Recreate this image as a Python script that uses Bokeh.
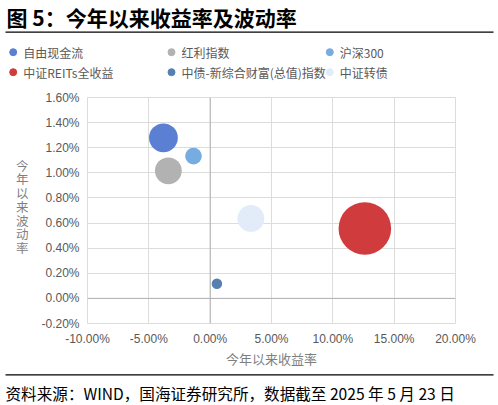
import math
from bokeh.plotting import figure
from bokeh.models import Range1d, NumeralTickFormatter, FixedTicker, Span, ColumnDataSource
from bokeh.layouts import column, row
from bokeh.embed import file_html
from bokeh.resources import INLINE
from bokeh.core.properties import value

# ---------------- data ----------------
names = ["自由现金流", "红利指数", "沪深300", "中证REITs全收益", "中债-新综合财富(总值)指数", "中证转债"]
ytd_return = [-0.0381, -0.0341, -0.0136, 0.1261, 0.0055, 0.0332]
ytd_volatility = [0.01279, 0.01016, 0.01133, 0.00557, 0.00116, 0.00637]
bubble_size = [0.30, 0.26, 0.10, 1.00, 0.04, 0.26]

x_ticks = [-0.10, -0.05, 0.0, 0.05, 0.10, 0.15, 0.20]
y_ticks = [-0.002, 0.0, 0.002, 0.004, 0.006, 0.008, 0.010, 0.012, 0.014, 0.016]

title_text = "图 5：今年以来收益率及波动率"
x_label = "今年以来收益率"
y_label = "今年以来波动率"
source_text = "资料来源：WIND，国海证券研究所，数据截至 2025 年 5 月 23 日"

# ---------------- style ----------------
colors = ["#5B7FD2", "#B2B2B2", "#76ACE0", "#D03B3D", "#5580B1", "#E1ECF8"]
CJK = "Noto Sans CJK SC"
LAT = "Liberation Sans"
W = 498
MAX_R = 26.3
ROW_H = 282
B_TOP, B_BOT = 9, 47


def blank(width, height, top=0, bottom=0):
    f = figure(width=width, height=height, x_range=Range1d(0, width),
               y_range=Range1d(height - bottom, top),
               toolbar_location=None, output_backend="svg", min_border=0,
               min_border_top=top, min_border_bottom=bottom,
               x_axis_location=None, y_axis_location=None)
    f.grid.visible = False
    f.outline_line_color = None
    f.background_fill_color = "white"
    f.border_fill_color = "white"
    return f


# ---------------- header: title + legend ----------------
hdr = blank(W, 88)
hdr.text(x=[6], y=[16], text=[title_text], text_font=value(CJK), text_font_size="21px",
         text_font_style="bold", text_baseline="middle", text_align="left", text_color="black")
hdr.segment(x0=[5], y0=[31.7], x1=[493], y1=[31.7], line_color="black", line_width=1.3)

col_idx = [i % 3 for i in range(len(names))]
row_idx = [i // 3 for i in range(len(names))]
mx = [12.7 + c * 158.3 for c in col_idx]
my = [51.7 + r * 20 for r in row_idx]
hdr.scatter(x=mx, y=my, size=7, color=colors)
hdr.text(x=[m + 10 for m in mx], y=my, text=names, text_font=value(CJK), text_font_size="12px",
         text_baseline="middle", text_align="left", text_color="#595959")

# ---------------- y label (stacked characters) ----------------
yl = blank(36, ROW_H, B_TOP, B_BOT)
yl.text(x=[21.7] * len(y_label), y=[76.5 + i * 13.75 for i in range(len(y_label))],
        text=list(y_label), text_font=value(CJK), text_font_size="12.5px",
        text_baseline="middle", text_align="center", text_color="#7f7f7f")

# ---------------- main plot ----------------
p = figure(width=462, height=ROW_H, x_range=Range1d(x_ticks[0], x_ticks[-1]),
           y_range=Range1d(y_ticks[0], y_ticks[-1]), toolbar_location=None, output_backend="svg",
           min_border_left=51, min_border_right=43, min_border_top=B_TOP, min_border_bottom=B_BOT)
p.background_fill_color = "white"
p.border_fill_color = "white"
p.outline_line_color = "#dcdcdc"

p.xaxis.ticker = FixedTicker(ticks=x_ticks)
p.yaxis.ticker = FixedTicker(ticks=y_ticks)
p.xaxis.formatter = NumeralTickFormatter(format="0.00%")
p.yaxis.formatter = NumeralTickFormatter(format="0.00%")
for ax in (p.xaxis, p.yaxis):
    ax.axis_line_color = None
    ax.major_tick_line_color = None
    ax.minor_tick_line_color = None
    ax.major_tick_out = 0
    ax.major_tick_in = 0
    ax.major_label_text_font = LAT
    ax.major_label_text_font_size = "12px"
    ax.major_label_text_color = "#595959"
    ax.major_label_standoff = 8
p.xaxis.axis_label = x_label
p.xaxis.axis_label_text_font = CJK
p.xaxis.axis_label_text_font_style = "normal"
p.xaxis.axis_label_text_font_size = "13px"
p.xaxis.axis_label_text_color = "#7f7f7f"
p.xaxis.axis_label_standoff = 0

p.grid.grid_line_color = "#dcdcdc"
p.grid.grid_line_width = 1
p.add_layout(Span(location=0, dimension="height", line_color="#b0b0b0", line_width=1))
p.add_layout(Span(location=0, dimension="width", line_color="#b0b0b0", line_width=1))

src = ColumnDataSource(dict(
    ret=ytd_return, vol=ytd_volatility, name=names, color=colors,
    diam=[2 * MAX_R * math.sqrt(s / max(bubble_size)) for s in bubble_size],
))
p.scatter(x="ret", y="vol", size="diam", fill_color="color", line_color=None, source=src)

# ---------------- footer ----------------
ft = blank(W, 35)
ft.segment(x0=[5], y0=[4.3], x1=[493], y1=[4.3], line_color="black", line_width=1.3)
ft.text(x=[5], y=[22.7], text=[source_text], text_font=value(CJK), text_font_size="15.6px",
        text_baseline="middle", text_align="left", text_color="black")

layout = column(hdr, row(yl, p), ft)
open("out.html", "w").write(file_html(layout, INLINE))
